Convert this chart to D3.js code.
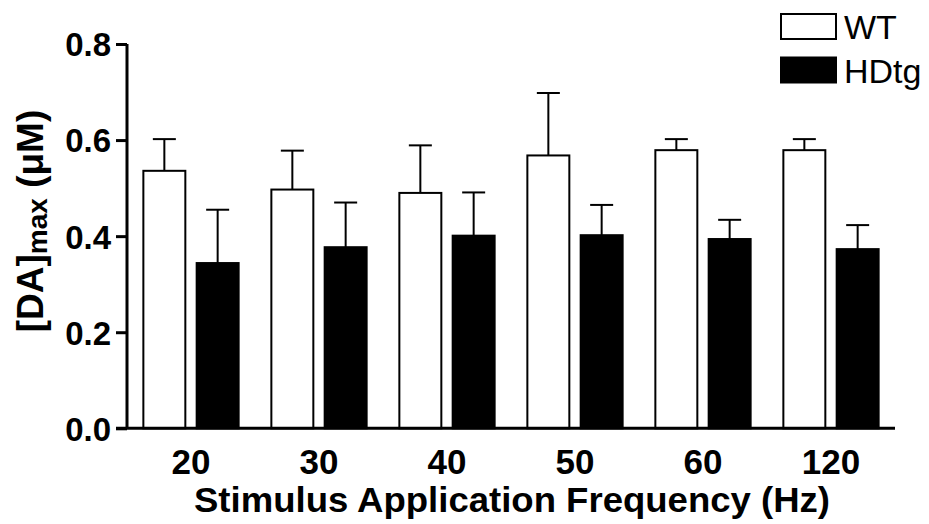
<!DOCTYPE html>
<html>
<head>
<meta charset="utf-8">
<script src="https://cdn.jsdelivr.net/npm/d3@7/dist/d3.min.js"></script>
<style>
  html, body { margin: 0; padding: 0; background: #fff; }
  svg { display: block; }
  text { font-family: "Liberation Sans", Arial, Helvetica, sans-serif; fill: #000; }
</style>
</head>
<body>
<svg id="chart" width="929" height="524"></svg>
<script>
// ---- data ----
const categories = ["20", "30", "40", "50", "60", "120"];
const seriesNames = ["WT", "HDtg"];
const wtValues = [0.536, 0.497, 0.490, 0.568, 0.579, 0.579];
const wtErrors = [0.066, 0.081, 0.099, 0.130, 0.023, 0.023];
const hdValues = [0.344, 0.377, 0.401, 0.402, 0.394, 0.373];
const hdErrors = [0.111, 0.093, 0.090, 0.063, 0.040, 0.050];
const yTicks = [0.0, 0.2, 0.4, 0.6, 0.8];
const xTitle = "Stimulus Application Frequency (Hz)";

const svg = d3.select("#chart");

const y = d3.scaleLinear().domain([0, 0.8]).range([428.3, 44]);
const x0 = d3.scaleBand().domain(categories).range([127, 895])
  .paddingInner(0.24).paddingOuter(0.12);
const x1 = d3.scaleBand().domain(seriesNames).range([0, x0.bandwidth()])
  .paddingInner(0.175).paddingOuter(0);

const rows = categories.map((c, i) => ({
  cat: c,
  bars: [
    { s: "WT", v: wtValues[i], e: wtErrors[i] },
    { s: "HDtg", v: hdValues[i], e: hdErrors[i] }
  ]
}));

const fill = { WT: "#fff", HDtg: "#000" };

const groups = svg.append("g").selectAll("g").data(rows).join("g")
  .attr("transform", d => `translate(${x0(d.cat)},0)`);

// error bars (upper only)
groups.selectAll("g.err").data(d => d.bars).join("g").attr("class", "err")
  .each(function(d) {
    const g = d3.select(this);
    const cx = x1(d.s) + x1.bandwidth() / 2;
    g.append("line").attr("x1", cx).attr("x2", cx)
      .attr("y1", y(d.v)).attr("y2", y(d.v + d.e))
      .attr("stroke", "#000").attr("stroke-width", 2);
    g.append("line").attr("x1", cx - 11.5).attr("x2", cx + 11.5)
      .attr("y1", y(d.v + d.e)).attr("y2", y(d.v + d.e))
      .attr("stroke", "#000").attr("stroke-width", 2);
  });

groups.selectAll("rect").data(d => d.bars).join("rect")
  .attr("x", d => x1(d.s) + 1)
  .attr("width", x1.bandwidth() - 2)
  .attr("y", d => y(d.v))
  .attr("height", d => y(0) - y(d.v))
  .attr("fill", d => fill[d.s])
  .attr("stroke", "#000").attr("stroke-width", 2);

// y axis
const yAxis = svg.append("g").attr("transform", "translate(127,0)")
  .call(d3.axisLeft(y).tickValues(yTicks).tickFormat(d3.format(".1f")).tickSize(11).tickPadding(5));
yAxis.select(".domain").attr("d", `M0,${y(0.8)}V${y(0)}`).attr("stroke-width", 3);
yAxis.selectAll(".tick line").attr("stroke-width", 3);
yAxis.selectAll(".tick text")
  .style("font-family", '"Liberation Sans", Arial, sans-serif')
  .style("font-weight", "bold").style("font-size", "33px").attr("dy", "0.36em");

// x axis
const xAxis = svg.append("g").attr("transform", `translate(0,${y(0)})`)
  .call(d3.axisBottom(x0).tickSize(0).tickPadding(20));
xAxis.select(".domain").attr("d", "M116,0H895").attr("stroke-width", 3);
xAxis.selectAll(".tick text")
  .style("font-family", '"Liberation Sans", Arial, sans-serif')
  .style("font-weight", "bold").style("font-size", "35px")
  .attr("dy", null).attr("y", 46);

// x title
svg.append("text").attr("x", 512).attr("y", 511.5)
  .attr("text-anchor", "middle")
  .attr("textLength", 636).attr("lengthAdjust", "spacingAndGlyphs")
  .style("font-weight", "bold").style("font-size", "35.5px")
  .text(xTitle);

// y title
const yt = svg.append("text")
  .attr("transform", "translate(43,221) rotate(-90)")
  .attr("text-anchor", "middle")
  .style("font-weight", "bold").style("font-size", "37px");
yt.append("tspan").text("[DA]");
yt.append("tspan").text("max").style("font-size", "28px").attr("dy", 4);
yt.append("tspan").text(" (\u03BCM)").attr("dy", -4);

// legend
const legend = svg.append("g").selectAll("g").data(seriesNames).join("g")
  .attr("transform", (d, i) => `translate(781,${14 + i * 43.5})`);
legend.append("rect").attr("width", 55).attr("height", 25)
  .attr("fill", d => fill[d]).attr("stroke", "#000").attr("stroke-width", 2);
legend.append("text").attr("x", 63).attr("y", 25)
  .style("font-size", "34px").text(d => d);
</script>
</body>
</html>
